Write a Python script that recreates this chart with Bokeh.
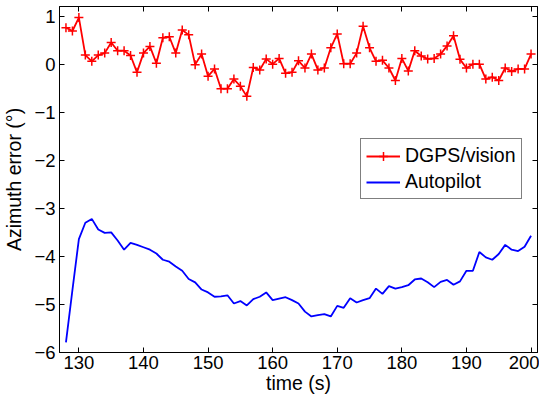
from bokeh.plotting import figure
from bokeh.models import Range1d, LinearAxis, Legend, LegendItem, FixedTicker
from bokeh.embed import file_html
from bokeh.resources import INLINE

time_s = list(range(128, 201))
dgps_vision = [0.76, 0.69, 0.97, 0.19, 0.06, 0.19, 0.23, 0.45, 0.28, 0.28,
               0.18, -0.17, 0.23, 0.37, 0.02, 0.55, 0.57, 0.23, 0.71, 0.61,
               -0.01, 0.21, -0.25, -0.10, -0.51, -0.51, -0.31, -0.46, -0.67, -0.07,
               -0.12, 0.11, 0.00, 0.12, -0.19, -0.17, 0.07, -0.08, 0.21, -0.12,
               -0.08, 0.34, 0.63, 0.01, 0.01, 0.23, 0.79, 0.34, 0.06, 0.08,
               -0.08, -0.34, 0.12, -0.14, 0.28, 0.17, 0.11, 0.12, 0.21, 0.38,
               0.59, 0.10, -0.08, 0.00, 0.00, -0.31, -0.27, -0.34, -0.08, -0.15,
               -0.10, -0.10, 0.21]
autopilot = [-5.79, -4.70, -3.64, -3.30, -3.22, -3.44, -3.51, -3.50, -3.67, -3.86,
             -3.72, -3.76, -3.81, -3.86, -3.94, -4.07, -4.11, -4.21, -4.30, -4.47,
             -4.54, -4.69, -4.75, -4.84, -4.83, -4.81, -4.98, -4.93, -5.02, -4.89,
             -4.84, -4.75, -4.91, -4.88, -4.85, -4.91, -4.98, -5.15, -5.25, -5.22,
             -5.20, -5.25, -5.03, -5.07, -4.87, -4.96, -4.91, -4.87, -4.67, -4.78,
             -4.62, -4.67, -4.64, -4.60, -4.48, -4.46, -4.54, -4.64, -4.53, -4.49,
             -4.59, -4.52, -4.30, -4.30, -3.91, -4.02, -4.07, -3.95, -3.76, -3.86,
             -3.89, -3.80, -3.57]
x_ticks = [130, 140, 150, 160, 170, 180, 190, 200]
y_ticks = [-6, -5, -4, -3, -2, -1, 0, 1]

FONT = "Liberation Sans"

p = figure(width=539, height=396, output_backend="svg", toolbar_location=None,
           x_range=Range1d(127, 201), y_range=Range1d(-6, 1.2),
           min_border_left=53, min_border_right=2, min_border_top=6, min_border_bottom=0)
p.xgrid.visible = False
p.ygrid.visible = False
p.outline_line_color = "black"
p.outline_line_width = 1
p.background_fill_color = "white"
p.border_fill_color = "white"

def style_axis(ax, ticks, show_labels=True):
    ax.ticker = FixedTicker(ticks=ticks)
    ax.minor_tick_line_color = None
    ax.major_tick_in = 5
    ax.major_tick_out = 0
    ax.axis_line_color = "black"
    ax.major_tick_line_color = "black"
    ax.major_label_text_font = FONT
    if show_labels:
        ax.major_label_text_font_size = "18.5px"
        ax.major_label_text_color = "black"
    else:
        ax.major_label_text_font_size = "1px"
        ax.major_label_text_color = None
        ax.major_label_standoff = 0

style_axis(p.xaxis[0], x_ticks)
style_axis(p.yaxis[0], y_ticks)
p.xaxis[0].major_label_standoff = 3
p.yaxis[0].major_label_standoff = 4
p.xaxis.axis_label = "time (s)"
p.yaxis.axis_label = "Azimuth error (°)"
for ax in (p.xaxis[0], p.yaxis[0]):
    ax.axis_label_text_font = FONT
    ax.axis_label_text_font_size = "19.5px"
    ax.axis_label_text_font_style = "normal"
    ax.axis_label_text_color = "black"
p.xaxis[0].axis_label_standoff = 0
p.yaxis[0].axis_label_standoff = 6

top_ax = LinearAxis()
style_axis(top_ax, x_ticks, show_labels=False)
p.add_layout(top_ax, "above")
right_ax = LinearAxis()
style_axis(right_ax, y_ticks, show_labels=False)
p.add_layout(right_ax, "right")

r_line = p.line(time_s, dgps_vision, line_color="#ff0000", line_width=1.8)
r_pts = p.scatter(time_s, dgps_vision, marker="cross", size=9, line_color="#ff0000", line_width=1.5)
b_line = p.line(time_s, autopilot, line_color="#0000ff", line_width=1.8)

legend = Legend(items=[LegendItem(label="DGPS/vision", renderers=[r_line, r_pts]),
                       LegendItem(label="Autopilot", renderers=[b_line])],
                location=(301, 153))
legend.label_text_font = FONT
legend.label_text_font_size = "19.5px"
legend.label_text_color = "black"
legend.glyph_width = 34
legend.glyph_height = 22
legend.label_height = 22
legend.label_standoff = 5
legend.spacing = 3
legend.padding = 5
legend.margin = 0
legend.border_line_color = "black"
legend.border_line_width = 1
legend.background_fill_color = "white"
legend.background_fill_alpha = 1
p.add_layout(legend, "center")

open("out.html", "w").write(file_html(p, INLINE))
